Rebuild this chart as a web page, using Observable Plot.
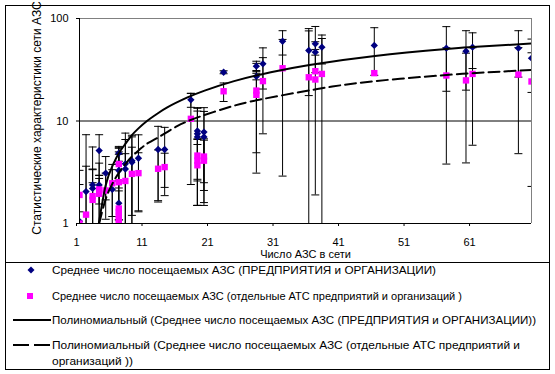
<!DOCTYPE html>
<html><head><meta charset="utf-8">
<script src="https://cdn.jsdelivr.net/npm/d3@7"></script>
<script src="https://cdn.jsdelivr.net/npm/@observablehq/plot@0.6"></script>
<style>
body{margin:0;background:#fff;}
#wrap{position:relative;width:555px;height:374px;overflow:hidden;background:#fff;font-family:"Liberation Sans",Arial,sans-serif;}
#frame{position:absolute;left:5px;top:5px;width:543px;height:363px;border:1px solid #000;pointer-events:none;}
#chart{position:absolute;left:0;top:0;}
#legend{position:absolute;left:0;top:262px;}
</style></head>
<body><div id="wrap"><div id="chart"></div><svg id="legend" width="555" height="112"></svg><div id="frame"></div></div>
<script>
// ---- data ----
const xTicks = [1, 11, 21, 31, 41, 51, 61];
const yTicks = [1, 10, 100];
const axisTitleX = "Число АЗС в сети";
const axisTitleY = "Статистические характеристики сети АЗС";

// Series 1: Среднее число посещаемых АЗС (ПРЕДПРИЯТИЯ и ОРГАНИЗАЦИИ)
const blueX   = [1, 2, 3, 3, 4, 4, 5, 6, 7, 7, 7, 7, 8, 8, 9, 9, 10, 13, 14, 18, 19, 19, 19, 20, 20, 23, 28, 28, 29, 32, 36, 37, 37, 38, 46, 57, 60, 61, 68, 70];
const blueY   = [1.05, 2.05, 2.2, 2.38, 5.15, 2.38, 3.1, 2.15, 4.85, 3.29, 3.82, 1.58, 3.82, 3.4, 3.96, 4.1, 4.33, 5.27, 5.27, 16.1, 8.0, 7.0, 7.5, 7.8, 7.0, 29.9, 34.3, 27.2, 36.1, 60, 48.7, 56.6, 46.9, 52.5, 54.6, 51.4, 48, 52.5, 51.4, 41];
const blueErr = [1.35, 5.3, 1.2, 3.2, 2.2, 1.5, 1.4, 1.2, 0.8, 2.2, 1.6, 0.5, 3.8, 3.2, 3.3, 2.9, 3.0, 3.6, 3.4, 2.5, 5.3, 5.5, 6.0, 5.7, 5.4, 1.0, 4.0, 2.0, 15.6, 16, 31, 27, 3, 16.5, 26.7, 31.9, 28, 20, 24.6, 22];

// Series 2: Среднее число посещаемых АЗС (отдельные АТС предприятий и организаций)
const pinkX   = [1, 1, 2, 3, 3, 4, 4, 5, 6, 7, 7, 7, 7, 7, 7, 7, 8, 9, 10, 13, 14, 18, 19, 19, 19, 20, 20, 23, 28, 28, 29, 32, 36, 37, 37, 38, 46, 57, 60, 61, 68, 70];
const pinkY   = [1.9, 1.0, 1.22, 1.7, 1.85, 1.95, 2.15, 2.1, 2.47, 2.53, 3.8, 1.0, 1.1, 1.2, 1.3, 1.4, 2.6, 3.05, 3.1, 3.42, 3.55, 10.5, 4.1, 3.7, 4.6, 4.1, 4.5, 19.5, 19.8, 18, 24.5, 32.7, 26.7, 30.6, 25.4, 28.8, 29.3, 27.8, 24.9, 28.8, 28.4, 24.3];
const pinkErr = [1.4, 0.3, 2.4, 0.8, 1.5, 1.0, 0.6, 1.0, 1.3, 2.2, 1.2, 0, 0, 0, 0, 0, 2.2, 2.5, 1.8, 1.8, 1.3, 8.1, 2.6, 2.2, 2.0, 2.6, 2.0, 4.0, 16.7, 13.1, 17, 29.8, 49, 28.7, 0, 35, 0, 24, 21, 23, 23.6, 22];

// Trend lines (polynomial)
const solidX = [3.95, 5, 6, 7, 8, 9, 10, 11.3, 12.8, 14.4, 17.4, 20.1, 24.6, 30.2, 36.1, 46.1, 57, 61, 70];
const solidY = [1.0, 2.36, 3.61, 4.84, 5.98, 7.27, 8.47, 10.0, 11.7, 13.6, 16.9, 19.8, 24.5, 29.9, 35.2, 43.1, 50.4, 52.6, 57];
const dashX  = [4.0, 5, 6, 7, 8, 9, 10.3, 11.3, 13, 15.9, 19.5, 24.1, 28.6, 37.1, 46.1, 57, 61, 70];
const dashY  = [1.0, 1.73, 2.43, 3.12, 3.8, 4.5, 5.35, 6.0, 6.9, 8.9, 11.1, 13.8, 16.2, 20.4, 24.5, 28.1, 29.3, 31.5];

const legendLabels = [
  "Среднее число посещаемых АЗС (ПРЕДПРИЯТИЯ и ОРГАНИЗАЦИИ)",
  "Среднее число посещаемых АЗС (отдельные АТС предприятий и организаций )",
  "Полиномиальный (Среднее число посещаемых АЗС (ПРЕДПРИЯТИЯ и ОРГАНИЗАЦИИ))",
  "Полиномиальный (Среднее число посещаемых АЗС (отдельные АТС предприятий и",
  "организаций ))"
];
const legendWidths = [384, 410, 484, 468, 81];

// ---- build tables ----
const blue = blueX.map((x, i) => ({x, y: blueY[i], err: blueErr[i]}));
const pink = pinkX.map((x, i) => ({x, y: pinkY[i], err: pinkErr[i]}));
const bars = [...blue, ...pink].filter(d => d.err > 0).map(d => ({
  x: d.x, hi: d.y + d.err, lo: d.y - d.err > 0 ? d.y - d.err : 0.5, loOk: d.y - d.err > 0
}));
const caps = bars.flatMap(d => d.loOk ? [{x: d.x, y: d.hi}, {x: d.x, y: d.lo}] : [{x: d.x, y: d.hi}]);
const solid = solidX.map((x, i) => ({x, y: solidY[i]}));
const dashed = dashX.map((x, i) => ({x, y: dashY[i]}));

const capSymbol = {draw(ctx) { ctx.moveTo(-4, 0); ctx.lineTo(4, 0); }};
const FONT = "Liberation Sans, Arial, sans-serif";

const chart = Plot.plot({
  width: 555, height: 262,
  marginLeft: 79, marginRight: 24, marginTop: 18, marginBottom: 39,
  style: {fontFamily: FONT, fontSize: "11px", background: "transparent", color: "#000", overflow: "visible"},
  x: {domain: [1, 70]},
  y: {type: "log", domain: [1, 100]},
  marks: [
    Plot.ruleY([10], {stroke: "#000", strokeWidth: 1}),
    Plot.ruleY([100], {stroke: "#808080"}),
    Plot.ruleX([70], {stroke: "#808080"}),
    Plot.ruleX(bars, {x: "x", y1: "lo", y2: "hi", stroke: "#000", strokeWidth: 1, clip: true}),
    Plot.dot(caps, {x: "x", y: "y", symbol: capSymbol, r: 2, fill: "none", stroke: "#000", strokeWidth: 1, clip: true}),
    Plot.dot(blue, {x: "x", y: "y", symbol: "diamond2", r: 3.3, fill: "#000080", stroke: "none", clip: true}),
    Plot.dot(pink, {x: "x", y: "y", symbol: "square", r: 3.6, fill: "#ff00ff", stroke: "none", clip: true}),
    Plot.line(solid, {x: "x", y: "y", stroke: "#000", strokeWidth: 2, curve: "natural", clip: true}),
    Plot.line(dashed, {x: "x", y: "y", stroke: "#000", strokeWidth: 2, strokeDasharray: "11,5", curve: "natural", clip: true}),
    Plot.ruleX([1], {stroke: "#000"}),
    Plot.ruleY([1], {stroke: "#000"}),
    Plot.axisX({ticks: xTicks, tickSize: 3, tickPadding: 12, dx: -3, label: null, fontSize: 11}),
    Plot.axisY({ticks: yTicks, tickFormat: d => String(d), tickSize: 3, tickPadding: 8, label: null, fontSize: 11}),
    Plot.text([axisTitleX], {frameAnchor: "bottom", dy: 31, lineAnchor: "middle", textAnchor: "middle", fontSize: 11, text: d => d}),
    Plot.text([axisTitleY], {frameAnchor: "left", dx: -42, dy: -3, rotate: -90, lineAnchor: "middle", textAnchor: "middle", fontSize: 12, text: d => d})
  ]
});
document.getElementById("chart").appendChild(chart);

// ---- legend ----
const lg = d3.select("#legend");
lg.append("line").attr("x1", 5).attr("x2", 550).attr("y1", 0.5).attr("y2", 0.5).attr("stroke", "#000");
const rows = [8, 34, 58, 83, 99];
lg.append("path").attr("d", d3.symbol(d3.symbolDiamond2, 31)()).attr("transform", `translate(31,${rows[0]})`).attr("fill", "#000080");
lg.append("rect").attr("x", 27).attr("y", rows[1] - 3).attr("width", 6).attr("height", 6).attr("fill", "#ff00ff");
lg.append("line").attr("x1", 13).attr("x2", 51).attr("y1", rows[2]).attr("y2", rows[2]).attr("stroke", "#000").attr("stroke-width", 2);
lg.append("line").attr("x1", 13).attr("x2", 51).attr("y1", rows[3]).attr("y2", rows[3]).attr("stroke", "#000").attr("stroke-width", 2).attr("stroke-dasharray", "16,5");
legendLabels.forEach((t, i) => {
  lg.append("text").attr("x", 52).attr("y", rows[i]).attr("dy", "0.35em")
    .attr("font-family", FONT).attr("font-size", 11.5).attr("fill", "#000")
    .attr("textLength", legendWidths[i]).attr("lengthAdjust", "spacingAndGlyphs").text(t);
});
</script>
</body></html>
